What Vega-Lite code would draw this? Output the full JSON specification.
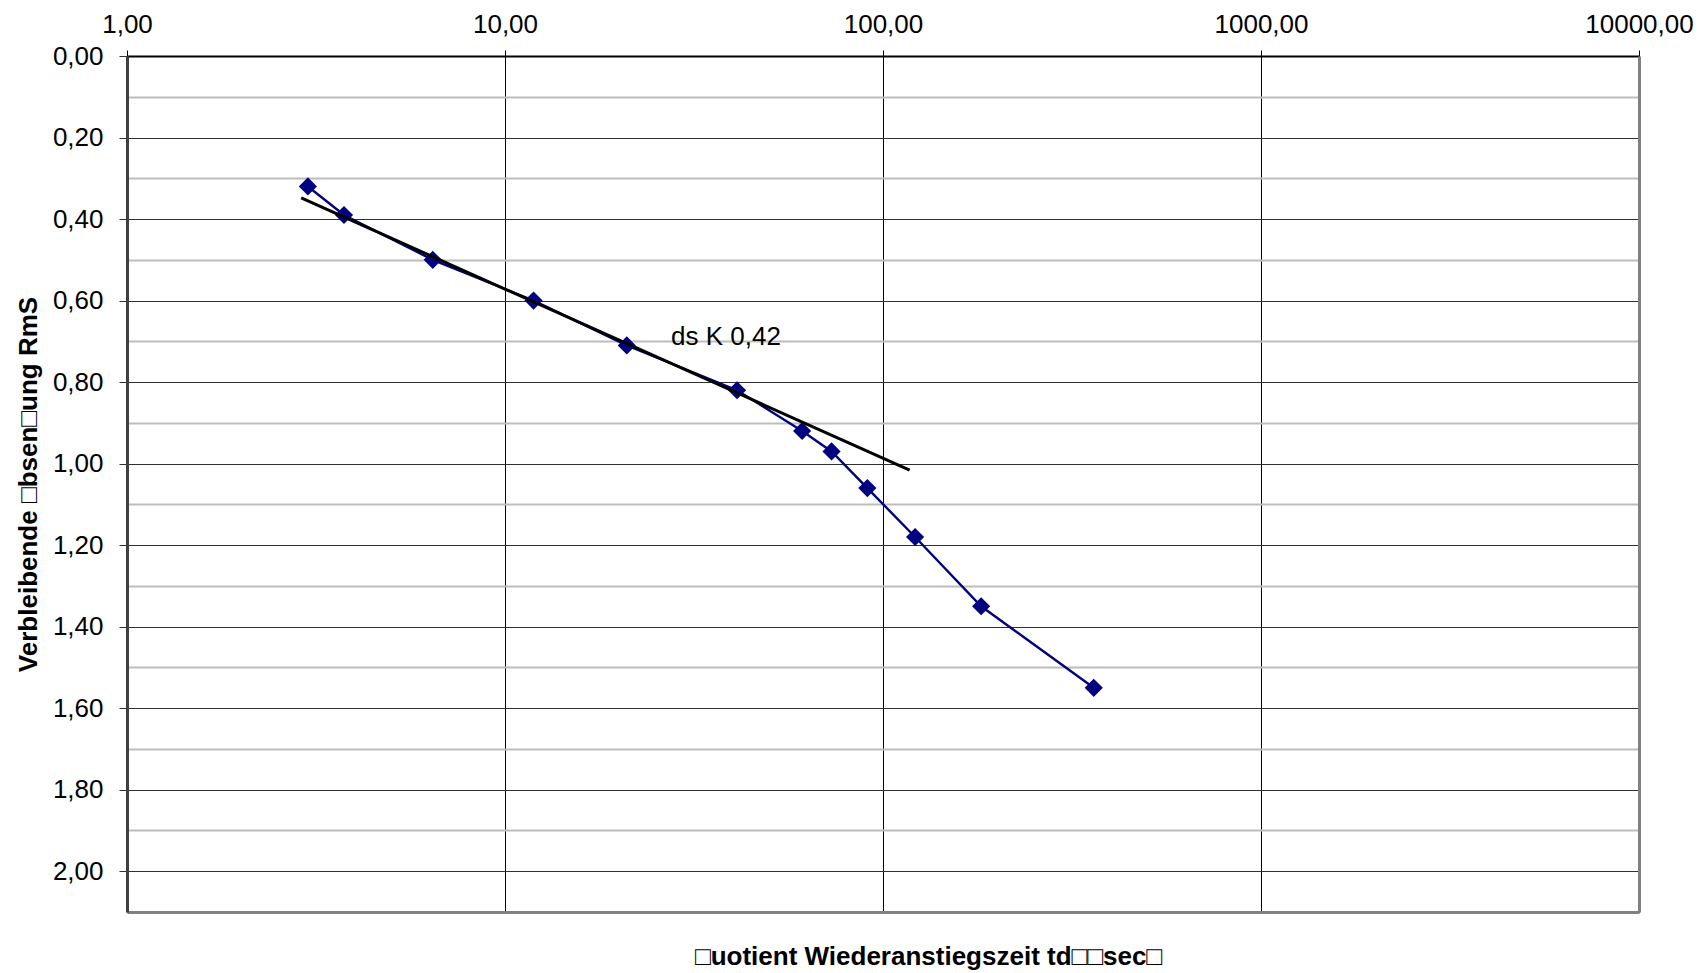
{
  "$schema": "https://vega.github.io/schema/vega-lite/v6.json",
  "width": 1512,
  "height": 856,
  "autosize": {"type": "none"},
  "padding": {"left": 127, "top": 56, "right": 61, "bottom": 61},
  "background": "white",
  "config": {
    "view": {"stroke": null},
    "font": "Liberation Sans",
    "axis": {"labelFont": "Liberation Sans", "titleFont": "Liberation Sans", "labelColor": "black", "titleColor": "black"}
  },
  "datasets": {
    "obs": [
      {"quotient": 3.01, "s": 0.32},
      {"quotient": 3.75, "s": 0.39},
      {"quotient": 6.44, "s": 0.50},
      {"quotient": 11.9, "s": 0.60},
      {"quotient": 21.0, "s": 0.71},
      {"quotient": 41.1, "s": 0.82},
      {"quotient": 61.1, "s": 0.92},
      {"quotient": 73.1, "s": 0.97},
      {"quotient": 90.9, "s": 1.06},
      {"quotient": 121.6, "s": 1.18},
      {"quotient": 181.8, "s": 1.35},
      {"quotient": 361, "s": 1.55}
    ],
    "fit": [
      {"quotient": 2.89, "s": 0.348},
      {"quotient": 117.6, "s": 1.016}
    ],
    "note": [
      {"quotient": 27.5, "s": 0.689, "label": "ds K 0,42"}
    ]
  },
  "resolve": {"axis": {"x": "independent", "y": "independent"}},
  "layer": [
    {
      "data": {"name": "obs"},
      "mark": {"type": "line", "color": "#000080", "strokeWidth": 2.4},
      "encoding": {
        "x": {
          "field": "quotient", "type": "quantitative",
          "scale": {"type": "log", "domain": [1, 10000], "nice": false},
          "axis": {
            "orient": "top", "values": [1, 10, 100, 1000, 10000],
            "labelExpr": "replace(format(datum.value, '.2f'), '.', ',')",
            "labelFontSize": 26, "labelPadding": 13, "labelFlush": false, "labelOverlap": false,
            "tickSize": 6, "tickColor": "black", "tickWidth": 1,
            "domainColor": "black", "domainWidth": 2,
            "grid": true, "gridColor": "black", "gridWidth": 1,
            "title": null
          }
        },
        "y": {
          "field": "s", "type": "quantitative",
          "scale": {"domain": [0, 2.1], "reverse": true, "nice": false, "zero": true},
          "axis": {
            "orient": "left",
            "values": [0, 0.1, 0.2, 0.3, 0.4, 0.5, 0.6, 0.7, 0.8, 0.9, 1.0, 1.1, 1.2, 1.3, 1.4, 1.5, 1.6, 1.7, 1.8, 1.9, 2.0],
            "labelExpr": "round(datum.value * 10) % 2 == 0 ? replace(format(datum.value, '.2f'), '.', ',') : ''",
            "labelFontSize": 26, "labelPadding": 16, "labelOverlap": false, "labelFlush": false,
            "tickSize": 8, "tickColor": "#303030", "tickWidth": 1,
            "tickOpacity": {"condition": {"test": "round(datum.value * 10) % 2 == 0", "value": 1}, "value": 0},
            "domainColor": "#404040", "domainWidth": 3,
            "grid": true,
            "gridColor": {"condition": {"test": "round(datum.value * 10) % 2 == 0", "value": "#303030"}, "value": "#bdbdbd"},
            "gridWidth": {"condition": {"test": "round(datum.value * 10) % 2 == 0", "value": 1}, "value": 2},
            "title": "Verbleibende □bsen□ung RmS",
            "titleFontSize": 26, "titleFontWeight": "bold", "titlePadding": 11
          }
        }
      }
    },
    {
      "data": {"name": "obs"},
      "mark": {"type": "point", "shape": "diamond", "filled": true, "opacity": 1, "color": "#000080", "size": 330},
      "encoding": {
        "x": {"field": "quotient", "type": "quantitative", "axis": null},
        "y": {"field": "s", "type": "quantitative", "axis": null}
      }
    },
    {
      "data": {"name": "fit"},
      "mark": {"type": "line", "color": "black", "strokeWidth": 3},
      "encoding": {
        "x": {
          "field": "quotient", "type": "quantitative",
          "axis": {
            "orient": "bottom", "labels": false, "ticks": false, "grid": false,
            "domainColor": "#808080", "domainWidth": 3,
            "title": "□uotient Wiederanstiegszeit td□□sec□",
            "titleFontSize": 26, "titleFontWeight": "bold", "titlePadding": 31,
            "titleX": 801, "titleAlign": "center"
          }
        },
        "y": {
          "field": "s", "type": "quantitative",
          "axis": {
            "orient": "right", "labels": false, "ticks": false, "grid": false,
            "domainColor": "#808080", "domainWidth": 3, "title": null
          }
        }
      }
    },
    {
      "data": {"name": "note"},
      "mark": {"type": "text", "align": "left", "baseline": "middle", "fontSize": 26, "font": "Liberation Sans", "color": "black"},
      "encoding": {
        "x": {"field": "quotient", "type": "quantitative", "axis": null},
        "y": {"field": "s", "type": "quantitative", "axis": null},
        "text": {"field": "label"}
      }
    }
  ]
}
